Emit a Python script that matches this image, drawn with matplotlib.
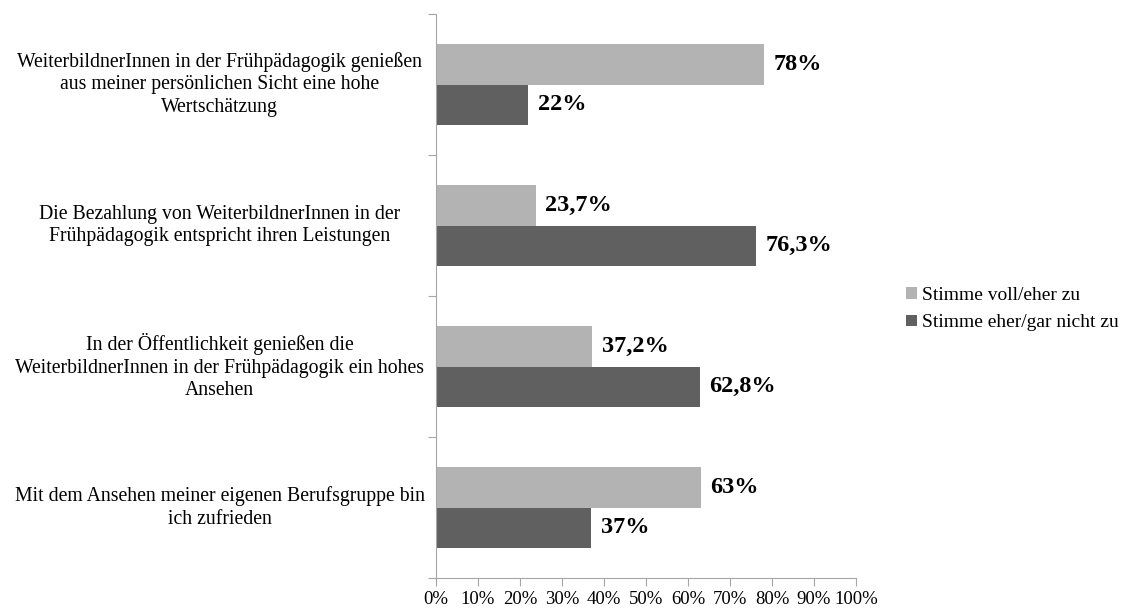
import matplotlib.pyplot as plt
import numpy as np

plt.rcParams['font.family'] = ['Liberation Serif', 'DejaVu Serif']

# statements, top to bottom
categories = [
    'WeiterbildnerInnen in der Frühpädagogik genießen\naus meiner persönlichen Sicht eine hohe\nWertschätzung',
    'Die Bezahlung von WeiterbildnerInnen in der\nFrühpädagogik entspricht ihren Leistungen',
    'In der Öffentlichkeit genießen die\nWeiterbildnerInnen in der Frühpädagogik ein hohes\nAnsehen',
    'Mit dem Ansehen meiner eigenen Berufsgruppe bin\nich zufrieden',
]
agree = [78, 23.7, 37.2, 63]
disagree = [22, 76.3, 62.8, 37]
series_names = ['Stimme voll/eher zu', 'Stimme eher/gar nicht zu']


def fmt(v):
    if float(v).is_integer():
        return f'{int(v)}%'
    return f'{v:.1f}%'.replace('.', ',')


fig = plt.figure(figsize=(11.27, 6.10), dpi=100)
ax = fig.add_axes([436 / 1127, 1 - 578 / 610, 420 / 1127, 564 / 610])

y = np.arange(len(categories))
h = 0.284
b1 = ax.barh(y - h / 2, agree, height=h, color='#b3b3b3', label=series_names[0])
b2 = ax.barh(y + h / 2, disagree, height=h, color='#606060', label=series_names[1])

for bars, vals in ((b1, agree), (b2, disagree)):
    for bar, v in zip(bars, vals):
        ax.text(v + 2.3, bar.get_y() + bar.get_height() / 2, fmt(v),
                va='center', ha='left', fontsize=17.5, fontweight='bold')

ax.set_xlim(0, 100)
ax.set_ylim(3.5, -0.5)
ax.set_xticks(np.arange(0, 101, 10))
ax.set_xticklabels([f'{t}%' for t in range(0, 101, 10)], fontsize=13.5)
ax.set_yticks(np.arange(-0.5, 4, 1))
ax.set_yticklabels([])

for i, lab in enumerate(categories):
    ax.text(-0.515, i, lab, transform=ax.get_yaxis_transform(),
            ha='center', va='center', multialignment='center', fontsize=14.2,
            linespacing=1.25)

for s in ('top', 'right'):
    ax.spines[s].set_visible(False)
for s in ('left', 'bottom'):
    ax.spines[s].set_color('#a6a6a6')
ax.tick_params(axis='both', color='#a6a6a6', length=6)
ax.tick_params(axis='x', pad=3)

fig.legend(handles=[b1, b2], loc='center left', bbox_to_anchor=(906 / 1127, 1 - 309 / 610),
           frameon=False, fontsize=14, handlelength=0.55, handleheight=0.55,
           handletextpad=0.25, labelspacing=0.55, borderpad=0, borderaxespad=0)

fig.savefig('out.png', dpi=100)
